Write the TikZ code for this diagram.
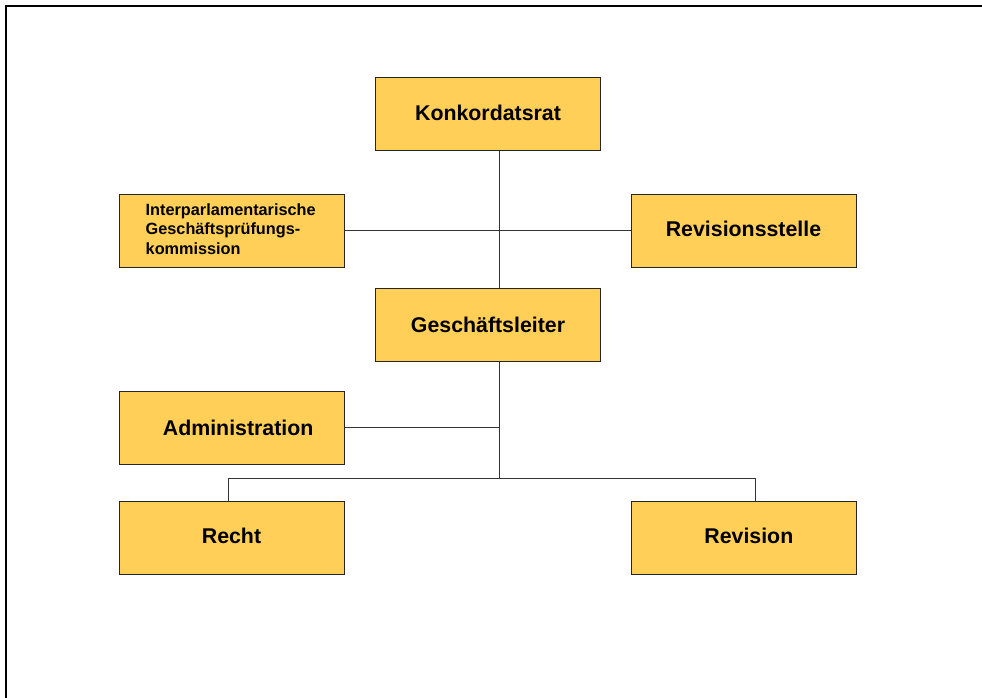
\documentclass[tikz,border=0pt]{standalone}
\usepackage{fontspec}
\setmainfont{Liberation Sans}
\usepackage{tikz}
\usetikzlibrary{calc,positioning}
\definecolor{orgyellow}{RGB}{255,207,87}
\tikzset{%
	unit/.style  = {draw=black!85, fill=orgyellow, rectangle, minimum width=168.75pt, minimum height=54.5pt, inner sep=0pt, font=\fontsize{16}{19}\selectfont\bfseries, text centered},
	small/.style = {font=\fontsize{12.2}{14.6}\selectfont\bfseries, align=left},
	link/.style  = {draw=black!80, line width=0.75pt},
	frame/.style = {line width=1.5pt},
}
\newcommand{\up}[2]{\raisebox{#1}{#2}}

\begin{document}
\begin{tikzpicture}[x=0.75pt,y=-0.75pt]
		\useasboundingbox (0,0) rectangle (982,698);
		% outer frame (top and left only)
		\draw[frame] (6,698) -- (6,6) -- (982,6);
		
		% boxes
		\node[unit] (konk) at (488,114) {\up{2.25pt}{Konkordatsrat}};
		\node[unit] (ipk) at (231.5,230.5) {};
		\node[small,anchor=west] (ipktext) at (141,229) {Interparlamentarische\\Geschäftsprüfungs-\\kommission};
		\node[unit] (revst) at (743.5,230.5) {\up{2.25pt}{Revisionsstelle}};
		\node[unit] (gl) at (488,325) {\up{-2.25pt}{Geschäftsleiter}};
		\node[unit] (adm) at (231.5,427.5) {\up{-2.25pt}{\hspace*{10pt}Administration}};
		\node[unit] (recht) at (231.5,537.5) {\up{3pt}{Recht}};
		\node[unit] (rev) at (743.5,537.5) {\up{3pt}{\hspace*{8pt}Revision}};
		
		% connector points
		\coordinate (spine) at (499,230);
		\coordinate (fork) at (499,479);
		\coordinate (forkl) at (228,479);
		\coordinate (forkr) at (755,479);
		
		% connectors
		\draw[link] (konk.south -| spine) -- (gl.north -| spine);
		\draw[link] (ipk.east) -- (revst.west);
		\draw[link] (gl.south -| spine) -- (fork);
		\draw[link] (adm.east) -- (adm.east -| spine);
		\draw[link] (recht.north -| forkl) -- (forkl) -- (forkr) -- (rev.north -| forkr);
\end{tikzpicture}
\end{document}
